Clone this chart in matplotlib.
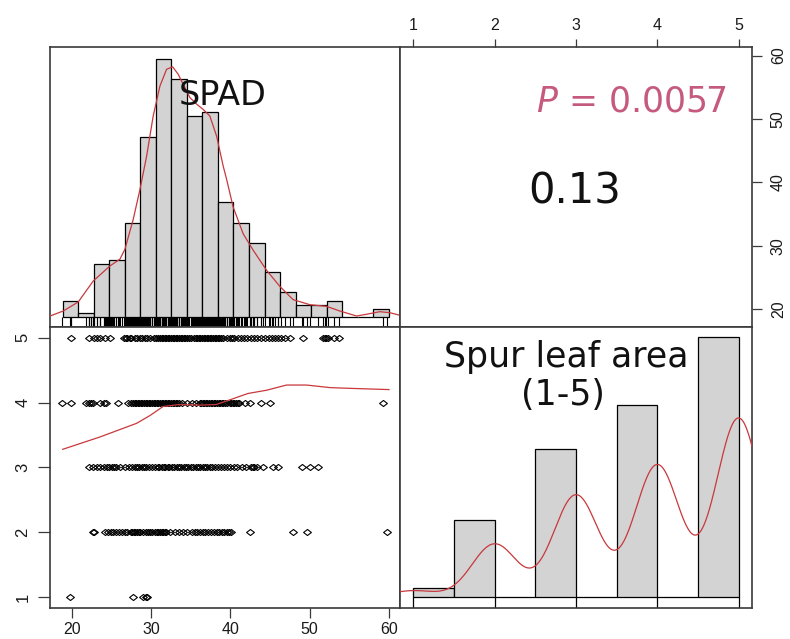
import numpy as np
import matplotlib
matplotlib.use("Agg")
import matplotlib.pyplot as plt
from matplotlib.path import Path

# ------------------------------------------------------------------ data
var_labels = ["SPAD", "Spur leaf area\n(1-5)"]
spad_ticks = [20, 30, 40, 50, 60]
leaf_ticks = [1, 2, 3, 4, 5]
corr_text = "0.13"
p_text = "0.0057"

# SPAD histogram (breaks and counts)
spad_breaks = [18.82, 20.78, 22.74, 24.70, 26.66, 28.62, 30.58, 32.54, 34.50,
               36.46, 38.42, 40.38, 42.34, 44.30, 46.26, 48.22, 50.18, 52.14,
               54.10, 56.06, 58.02, 59.98]
spad_counts = [4, 1, 13, 14, 23, 44, 63, 58, 49, 50, 28, 23, 18, 11, 6, 3, 3,
               4, 0, 0, 2]

# SPAD density curve (in histogram count units)
spad_dens_x = [17.23, 18.90, 20.79, 22.69, 24.79, 26.05, 26.68, 27.73, 28.58,
               29.42, 30.25, 31.10, 31.94, 32.70, 33.40, 34.04, 34.88, 35.73,
               36.56, 37.40, 38.25, 39.08, 39.51, 40.34, 41.60, 42.86, 44.55,
               46.23, 47.91, 50.01, 52.12, 53.80, 55.90, 57.16, 58.84, 60.10,
               61.39]
spad_dens_y = [0.24, 1.46, 3.66, 8.78, 12.44, 14.1, 16.5, 23.8, 31.1, 39.2,
               49.0, 56.3, 60.4, 61.0, 59.2, 56.7, 53.5, 51.9, 50.6, 49.0, 44.1,
               36.8, 33.6, 26.8, 20.3, 16.3, 11.4, 7.46, 4.22, 3.0, 2.59, 1.46,
               0.24, 0.66, 1.29, 1.05, 0.41]

# Spur leaf area histogram
leaf_breaks = [1.0, 1.5, 2.0, 2.5, 3.0, 3.5, 4.0, 4.5, 5.0]
leaf_bin_counts = [6, 48, 0, 92, 0, 119, 0, 161]
leaf_levels = [1, 2, 3, 4, 5]
leaf_level_counts = [6, 48, 92, 119, 161]
leaf_kde_bw = 0.28
leaf_kde_peak_ratio = 0.69   # density peak relative to tallest bar

# scatter: SPAD values observed at each spur-leaf-area score
spad_at_5 = [19.9, 22.1, 22.8, 23.2, 23.6, 24.2, 24.8,
             26.6, 26.8, 27.0, 27.3, 27.5, 27.9, 28.2, 28.6, 28.8, 29.2, 29.5,
             29.8, 30.3, 30.6, 30.9, 31.1, 31.3, 31.5, 31.7, 31.9, 32.1, 32.3,
             32.5, 32.7, 32.9, 33.1, 33.3, 33.5, 33.7, 33.9, 34.1, 34.3, 34.5,
             34.8, 35.0, 35.4, 35.6, 35.8, 36.0, 36.2, 36.4, 36.6, 36.8, 37.0,
             37.2, 37.4, 37.6, 37.8, 38.0, 38.2, 38.4, 38.6, 38.8, 39.0, 39.5,
             39.9, 40.2, 40.5, 40.9, 41.3, 41.7, 42.1, 42.6, 43.0, 43.3, 43.8,
             44.4, 44.8, 45.2, 45.6, 46.0, 46.4, 46.9, 47.5, 49.1, 51.7, 51.9,
             52.1, 52.3, 53.0, 53.7]
spad_at_4 = [18.7, 19.9, 21.8, 22.1, 22.4, 22.7, 23.5, 24.0, 24.3, 25.8, 27.1,
             27.5, 27.7, 27.9, 28.1, 28.3, 28.5, 28.7, 28.9, 29.1, 29.3, 29.5,
             29.7, 29.9, 30.1, 30.3, 30.5, 30.7, 30.9, 31.1, 31.3, 31.5, 31.7,
             31.9, 32.1, 32.3, 32.5, 32.7, 32.9, 33.1, 33.3, 33.5, 33.9, 34.5,
             35.1, 35.7, 36.1, 36.3, 36.5, 36.7, 36.9, 37.1, 37.3, 37.5, 37.7,
             37.9, 38.1, 38.3, 38.5, 38.7, 38.9, 39.1, 39.3, 39.5, 39.9, 40.1,
             40.3, 40.5, 40.7, 40.9, 41.1, 41.8, 42.5, 43.9, 45.0, 59.2]
spad_at_3 = [22.1, 22.6, 23.1, 23.6, 24.0, 24.4, 24.7, 25.0, 25.3, 25.6, 26.1,
             26.7, 27.2, 27.6, 27.9, 28.2, 28.5, 28.8, 29.1, 29.4, 29.7, 30.1,
             30.5, 30.8, 31.0, 31.3, 31.6, 31.8, 32.1, 32.3, 32.6, 32.9, 33.2,
             33.5, 33.8, 34.1, 34.4, 34.7, 35.0, 35.3, 35.6, 35.9, 36.2, 36.5,
             36.8, 37.1, 37.4, 37.7, 38.0, 38.4, 38.8, 39.2, 39.6, 40.0, 40.4,
             40.8, 41.4, 42.0, 42.6, 42.8, 43.0, 43.3, 44.1, 45.4, 46.0, 49.0,
             50.0, 51.1]
spad_at_2 = [22.7, 22.8, 24.2, 24.6, 24.9, 25.2, 25.6, 25.9, 26.3, 26.7, 27.0,
             27.4, 27.6, 27.8, 28.0, 28.2, 28.4, 28.6, 29.0, 29.4, 29.6, 29.8,
             30.1, 30.5, 30.7, 30.9, 31.1, 31.3, 31.5, 31.7, 31.9, 32.4, 33.0,
             33.5, 34.0, 34.5, 35.1, 35.5, 35.8, 36.1, 36.5, 36.8, 37.2, 37.5,
             37.9, 38.3, 38.6, 38.9, 39.2, 39.5, 39.8, 40.1, 42.5, 47.9, 49.6,
             59.8]
spad_at_1 = [19.7, 27.7, 29.0, 29.3, 29.5]

# smooth (loess) line in the scatter panel
smooth_x = [18.83, 23.53, 28.15, 29.84, 31.5, 33.6, 36.1, 38.2, 40.34, 42.2,
            44.55, 47.07, 49.6, 52.6, 54.9, 60.0]
smooth_y = [3.28, 3.47, 3.68, 3.80, 3.94, 3.97, 3.96, 3.97, 4.06, 4.14, 4.19,
            4.27, 4.27, 4.23, 4.22, 4.20]

# ------------------------------------------------------------------ style
RED = "#C8383C"
PINK = "#C65A7E"
GREY_BAR = "#D3D3D3"
FRAME = "#3a3a3a"
TICKFONT = "Liberation Sans"
BIGFONT = "DejaVu Sans"

spad_lim = (17.23, 61.39)
leaf_lim = (0.836, 5.164)

W, H = 790, 639
fig = plt.figure(figsize=(W / 100, H / 100), dpi=100)


def px_axes(x0, y0, x1, y1):
    return fig.add_axes([x0 / W, 1 - y1 / H, (x1 - x0) / W, (y1 - y0) / H])


ax_tl = px_axes(50, 46.7, 400, 327)
ax_tr = px_axes(400, 46.7, 752, 327)
ax_bl = px_axes(50, 327, 400, 608)
ax_br = px_axes(400, 327, 752, 608)

for ax in (ax_tl, ax_tr, ax_bl, ax_br):
    for s in ax.spines.values():
        s.set_color(FRAME)
        s.set_linewidth(1.2)
    ax.set_facecolor("white")
    ax.tick_params(colors=FRAME, labelcolor="#1a1a1a", width=0.9)

# ---------------- top-left: SPAD histogram
ax_tl.set_xlim(*spad_lim)
ax_tl.set_ylim(-2.44, 65.9)
lefts = spad_breaks[:-1]
widths = np.diff(spad_breaks)
ax_tl.bar(lefts, spad_counts, width=widths, align="edge", color=GREY_BAR,
          edgecolor="black", linewidth=0.9, zorder=2)
all_spad = spad_at_1 + spad_at_2 + spad_at_3 + spad_at_4 + spad_at_5
ax_tl.vlines(all_spad, -2.44, 0, color="black", linewidth=0.8, zorder=2)
ax_tl.plot(spad_dens_x, spad_dens_y, color=RED, linewidth=0.9, zorder=3)
ax_tl.set_xticks([])
ax_tl.set_yticks([])
ax_tl.text(0.494, 0.792, var_labels[0], transform=ax_tl.transAxes,
           ha="center", va="baseline", fontsize=24, family=BIGFONT,
           color="#111111", zorder=5)

# ---------------- top-right: correlation
ax_tr.set_xlim(*leaf_lim)
ax_tr.set_ylim(*spad_lim)
ax_tr.xaxis.tick_top()
ax_tr.yaxis.tick_right()
ax_tr.set_xticks(leaf_ticks)
ax_tr.set_yticks(spad_ticks)
ax_tr.tick_params(axis="x", length=6, pad=4.0, labelsize=11.5)
ax_tr.tick_params(axis="y", length=7.2, pad=6.3, labelsize=11.5)
for lab in ax_tr.get_xticklabels():
    lab.set_family(TICKFONT)
for lab in ax_tr.get_yticklabels():
    lab.set_family(TICKFONT)
    lab.set_rotation(90)
    lab.set_va("center")
ax_tr.text(0.656, 0.768, "$\\mathit{P}$ = " + p_text, transform=ax_tr.transAxes,
           ha="center", va="baseline", fontsize=25, family=BIGFONT, color=PINK)
ax_tr.text(0.495, 0.441, corr_text, transform=ax_tr.transAxes,
           ha="center", va="baseline", fontsize=30, family=BIGFONT,
           color="#111111")

# ---------------- bottom-left: scatter
diamond = Path([(-1, 0), (0, 0.78), (1, 0), (0, -0.78), (-1, 0)],
               [Path.MOVETO, Path.LINETO, Path.LINETO, Path.LINETO,
                Path.CLOSEPOLY])
ax_bl.set_xlim(*spad_lim)
ax_bl.set_ylim(*leaf_lim)
rows = [spad_at_1, spad_at_2, spad_at_3, spad_at_4, spad_at_5]
for lvl, xs in zip(leaf_levels, rows):
    ax_bl.plot(xs, [lvl] * len(xs), linestyle="none", marker=diamond,
               markersize=5.6, markerfacecolor="none", markeredgecolor="black",
               markeredgewidth=0.8, zorder=2)
ax_bl.plot(smooth_x, smooth_y, color=RED, linewidth=0.9, zorder=3)
ax_bl.set_xticks(spad_ticks)
ax_bl.set_yticks(leaf_ticks)
ax_bl.tick_params(axis="x", length=7, pad=2.8, labelsize=11.5)
ax_bl.tick_params(axis="y", length=8.5, pad=5.5, labelsize=12)
for lab in ax_bl.get_xticklabels():
    lab.set_family(TICKFONT)
for lab in ax_bl.get_yticklabels():
    lab.set_family(TICKFONT)
    lab.set_rotation(90)
    lab.set_va("center")

# ---------------- bottom-right: spur leaf area histogram
ax_br.set_xlim(*leaf_lim)
ax_br.set_ylim(-6.6, 167.4)
ax_br.bar(leaf_breaks[:-1], leaf_bin_counts, width=np.diff(leaf_breaks),
          align="edge", color=GREY_BAR, edgecolor="black", linewidth=0.9,
          zorder=2)
ax_br.vlines(leaf_levels, -6.6, 0, color="black", linewidth=0.9, zorder=2)
grid = np.linspace(leaf_lim[0], leaf_lim[1], 600)
dens = np.zeros_like(grid)
for lvl, n in zip(leaf_levels, leaf_level_counts):
    dens += n * np.exp(-0.5 * ((grid - lvl) / leaf_kde_bw) ** 2)
dens = dens / dens.max() * max(leaf_bin_counts) * leaf_kde_peak_ratio
ax_br.plot(grid, dens, color=RED, linewidth=0.9, zorder=3)
ax_br.set_xticks([])
ax_br.set_yticks([])
ax_br.text(0.473, 0.859, "Spur leaf area", transform=ax_br.transAxes,
           ha="center", va="baseline", fontsize=25, family=BIGFONT,
           color="#111111", zorder=5)
ax_br.text(0.462, 0.722, "(1-5)", transform=ax_br.transAxes,
           ha="center", va="baseline", fontsize=25, family=BIGFONT,
           color="#111111", zorder=5)

fig.savefig("out.png", dpi=100, facecolor="white")
